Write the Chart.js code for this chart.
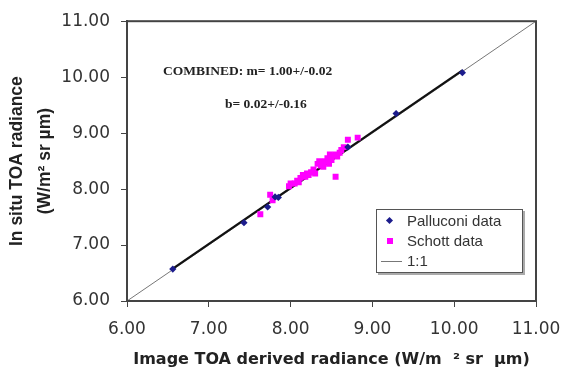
<!DOCTYPE html>
<html>
<head>
<meta charset="utf-8">
<script src="https://cdn.jsdelivr.net/npm/chart.js@4.4.1/dist/chart.umd.min.js"></script>
<style>
  html, body { margin: 0; padding: 0; background: #fff; }
  #wrap { position: relative; width: 573px; height: 374px; }
  .note { position: absolute; font-family: "Liberation Serif", "Times New Roman", serif; font-weight: bold; font-size: 13.5px; color: #222; white-space: nowrap; }
  #legend { position: absolute; left: 376px; top: 209px; width: 145px; height: 62px; border: 1px solid #555; box-shadow: 2px 2px 0 #aaa; background: #fff; font-family: "Liberation Sans", Arial, sans-serif; font-size: 15px; color: #333; }
  #legend div { position: absolute; left: 0; height: 20px; line-height: 20px; white-space: nowrap; }
  #legend span.mk { position: absolute; }
  #legend span.tx { position: absolute; left: 30px; }
</style>
</head>
<body>
<div id="wrap">
  <canvas id="scatterChart" width="573" height="374"></canvas>
  <div class="note" style="left:163px; top:63px;">COMBINED: m= 1.00+/-0.02</div>
  <div class="note" style="left:225px; top:96px;">b= 0.02+/-0.16</div>
  <div id="legend"></div>
</div>
<script>
// axis ticks
var axisTicks = [6, 7, 8, 9, 10, 11];

// Palluconi data
var pallX = [6.56, 7.43, 7.72, 7.81, 7.85, 8.70, 9.29, 10.10];
var pallY = [6.57, 7.40, 7.68, 7.86, 7.85, 8.75, 9.35, 10.08];

// Schott data
var schottX = [7.63, 7.75, 7.78, 7.98, 8.00, 8.05, 8.08, 8.10, 8.12, 8.15, 8.18, 8.20, 8.22, 8.25, 8.28, 8.30,
               8.33, 8.35, 8.37, 8.40, 8.40, 8.42, 8.45, 8.47, 8.48, 8.50, 8.52, 8.55, 8.55, 8.57, 8.60, 8.62,
               8.65, 8.70, 8.82];
var schottY = [7.55, 7.90, 7.80, 8.05, 8.10, 8.10, 8.15, 8.12, 8.20, 8.25, 8.22, 8.28, 8.25, 8.30, 8.35, 8.28,
               8.45, 8.50, 8.42, 8.48, 8.40, 8.50, 8.55, 8.45, 8.62, 8.52, 8.60, 8.62, 8.22, 8.58, 8.65, 8.70,
               8.75, 8.88, 8.92];

// 1:1 line and combined fit line ends
var oneX = [6, 11];
var oneY = [6, 11];
var fitX = [6.56, 10.10];
var fitY = [6.58, 10.12];

function pts(xs, ys) {
  return xs.map(function (x, i) { return { x: x, y: ys[i] }; });
}

var boxPlugin = {
  id: 'box',
  afterDatasetsDraw: function (chart) {
    var a = chart.chartArea, ctx = chart.ctx;
    ctx.save();
    ctx.strokeStyle = '#444';
    ctx.lineWidth = 2;
    ctx.strokeRect(a.left, a.top, a.right - a.left, a.bottom - a.top);
    ctx.restore();
  }
};

var tickFont = { family: 'DejaVu Sans', size: 17 };

function setTicks(scale) {
  scale.ticks = axisTicks.map(function (v) { return { value: v }; });
}
function fmt(v) { return v.toFixed(2); }

var ctxS = document.getElementById('scatterChart').getContext('2d');
var myChart = new Chart(ctxS, {
  type: 'scatter',
  data: {
    datasets: [
      { label: 'Palluconi data', data: pts(pallX, pallY), pointStyle: 'rectRot', pointRadius: 3.6,
        backgroundColor: '#1c1c8c', borderWidth: 0, order: 0 },
      { label: 'Schott data', data: pts(schottX, schottY), pointStyle: 'rect', pointRadius: 4.2,
        backgroundColor: '#ff00ff', borderWidth: 0, order: 1 },
      { label: '1:1', data: pts(oneX, oneY), showLine: true, pointRadius: 0, borderColor: '#777',
        borderWidth: 1, order: 3 },
      { label: 'fit', data: pts(fitX, fitY), showLine: true, pointRadius: 0, borderColor: '#111',
        borderWidth: 2.2, order: 2 }
    ]
  },
  options: {
    responsive: false,
    animation: false,
    layout: { padding: { top: 15, right: 37, left: 0, bottom: 0 } },
    plugins: { legend: { display: false }, tooltip: { enabled: false } },
    scales: {
      x: {
        type: 'linear', min: 6, max: 11,
        afterBuildTicks: setTicks,
        afterFit: function (s) { s.height = 73; },
        grid: { drawOnChartArea: false, tickLength: 6, color: '#444' },
        border: { color: '#444', width: 2 },
        ticks: { font: tickFont, color: '#333', padding: 12, callback: fmt, maxRotation: 0 },
        title: { display: true, text: 'Image TOA derived radiance (W/m  \u00b2 sr  \u00b5m)',
                 font: { family: 'DejaVu Sans', size: 16, weight: 'bold' },
                 color: '#222', padding: { top: 0, bottom: 5 } }
      },
      y: {
        type: 'linear', min: 6, max: 11,
        afterBuildTicks: setTicks,
        afterFit: function (s) { s.width = 127; },
        grid: { drawOnChartArea: false, tickLength: 6, color: '#444' },
        border: { color: '#444', width: 2 },
        ticks: { font: tickFont, color: '#333', padding: 11, callback: fmt },
        title: { display: true, text: ['In situ TOA radiance', '(W/m\u00b2 sr \u00b5m)'],
                 font: { family: 'Liberation Sans', size: 17.5, weight: 'bold', lineHeight: 1.55 },
                 color: '#222', padding: { top: 4, bottom: 0 } }
      }
    }
  },
  plugins: [boxPlugin]
});

// legend box from the first three datasets
var legendEl = document.getElementById('legend');
myChart.data.datasets.slice(0, 3).forEach(function (ds, i) {
  var row = document.createElement('div');
  row.style.top = (i * 20 + 1) + 'px';
  row.style.width = '100%';
  var mk = document.createElement('span');
  mk.className = 'mk';
  if (i === 0) {
    mk.style.cssText = 'left:10px;top:7px;width:5px;height:5px;background:' + ds.backgroundColor + ';transform:rotate(45deg);';
  } else if (i === 1) {
    mk.style.cssText = 'left:10px;top:7px;width:6px;height:6px;background:' + ds.backgroundColor + ';';
  } else {
    mk.style.cssText = 'left:4px;top:10px;width:21px;height:1px;background:' + ds.borderColor + ';';
  }
  var tx = document.createElement('span');
  tx.className = 'tx';
  tx.textContent = ds.label;
  row.appendChild(mk);
  row.appendChild(tx);
  legendEl.appendChild(row);
});
</script>
</body>
</html>
